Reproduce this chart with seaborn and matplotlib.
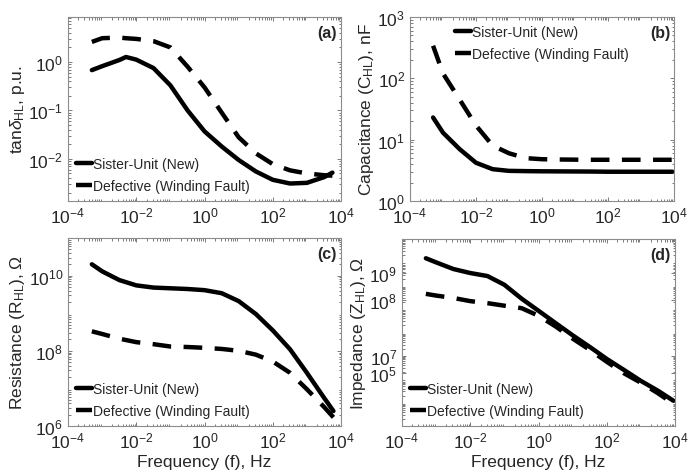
import matplotlib
matplotlib.use("Agg")
import matplotlib.pyplot as plt
import numpy as np
import pandas as pd
import seaborn as sns
from matplotlib.ticker import LogLocator

freq_left = [5e-4, 1e-3, 3.2e-3, 5e-3, 1e-2, 3.2e-2, 0.1, 0.32, 1, 3.2, 10, 32, 100, 320, 1000, 3200, 5600]
freq_right = [5e-4, 1e-3, 3.2e-3, 1e-2, 3.2e-2, 0.1, 0.32, 1, 3.2, 10, 32, 100, 320, 1000, 3200, 9000]
freq_c = [5e-4, 1e-3, 3.2e-3, 1e-2, 3.2e-2, 0.1, 0.32, 1, 3.2, 10, 32, 100, 320, 1000, 3200, 6000]

units = ["Sister-Unit (New)", "Defective (Winding Fault)"]

# (a) tan delta, p.u.
tan_new = [0.68, 0.82, 1.1, 1.27, 1.12, 0.75, 0.33, 0.10, 0.037, 0.018, 0.0095,
           0.0055, 0.0037, 0.0031, 0.0032, 0.0042, 0.0052]
tan_def = [2.6, 3.1, 3.2, 3.1, 3.0, 2.7, 2.0, 0.8, 0.3, 0.09, 0.028,
           0.013, 0.0078, 0.0058, 0.005, 0.0046, 0.0045]

# (b) capacitance, nF
cap_new = [23, 13, 7, 4.2, 3.3, 3.1, 3.07, 3.05, 3.04, 3.03, 3.02, 3.0, 3.0, 3.0, 3.0, 3.0]
cap_def = [340, 120, 45, 17, 8, 6, 5.0, 4.8, 4.75, 4.72, 4.7, 4.7, 4.7, 4.7, 4.7, 4.7]

# (c) resistance, ohm
res_new = [2.0e10, 1.3e10, 7.6e9, 5.5e9, 4.8e9, 4.6e9, 4.4e9, 4.1e9, 3.4e9, 2.1e9,
           9.5e8, 3.5e8, 1.1e8, 2.6e7, 5.6e6, 2.5e6]
res_def = [3.3e8, 2.8e8, 2.1e8, 1.7e8, 1.5e8, 1.3e8, 1.26e8, 1.2e8, 1.12e8, 1.0e8,
           7.9e7, 5.2e7, 2.6e7, 9.5e6, 3.2e6, 1.7e6]

# (d) impedance, ohm
imp_new = [1.5e10, 1.0e10, 5.2e9, 3.5e9, 2.6e9, 1.1e9, 2.8e8, 8.5e7, 2.5e7, 7.6e6,
           2.4e6, 7.4e5, 2.5e5, 8.5e4, 3.2e4, 1.2e4]
imp_def = [4.5e8, 3.8e8, 3.0e8, 2.2e8, 1.8e8, 1.4e8, 1.1e8, 5.2e7, 1.8e7, 5.5e6,
           1.8e6, 5.6e5, 1.8e5, 7.1e4, 2.5e4, 8.9e3]
# panel (d) carries hand-edited tick labels in the original
imp_tick_vals = [3.5e9, 2.5e8, 1.0e6, 1.9e5]
imp_tick_labels = [r"$10^{9}$", r"$10^{8}$", r"$10^{7}$", r"$10^{5}$"]

sns.set_style("ticks")
plt.rcParams["font.family"] = ["Liberation Sans", "DejaVu Sans"]
plt.rcParams["mathtext.fontset"] = "custom"
plt.rcParams["mathtext.rm"] = "Liberation Sans"
plt.rcParams["mathtext.it"] = "Liberation Sans:italic"
plt.rcParams["mathtext.default"] = "regular"

W, H = 694, 477
fig = plt.figure(figsize=(W / 100, H / 100), dpi=100)


def box(l, t, r, b):
    return [l / W, 1 - b / H, (r - l) / W, (b - t) / H]


ax_a = fig.add_axes(box(68, 18, 341, 202))
ax_b = fig.add_axes(box(410, 18, 674, 202))
ax_c = fig.add_axes(box(68, 239, 341, 427))
ax_d = fig.add_axes(box(402, 240, 675, 427))

dash_map = {units[0]: "", units[1]: (4.2, 2.8)}


def panel(ax, f, new, dfc, tag, legend_loc):
    df = pd.DataFrame({
        "f": list(f) + list(f),
        "v": list(new) + list(dfc),
        "unit": [units[0]] * len(f) + [units[1]] * len(f),
    })
    sns.lineplot(data=df, x="f", y="v", hue="unit", style="unit",
                 palette=["black", "black"], dashes=dash_map, lw=3.2,
                 ax=ax, legend=True)
    ax.set_xscale("log")
    ax.set_yscale("log")
    ax.set_xlim(1e-4, 1e4)
    ax.set_xticks([1e-4, 1e-2, 1, 1e2, 1e4])
    ax.xaxis.set_minor_locator(LogLocator(base=10, subs=np.arange(2, 10), numticks=30))
    ax.yaxis.set_minor_locator(LogLocator(base=10, subs=np.arange(2, 10), numticks=30))
    ax.tick_params(which="both", direction="in", top=True, right=True,
                   labelsize=12.5, color="0.4", width=0.6)
    ax.tick_params(which="major", length=3)
    ax.tick_params(which="minor", length=1.8)
    for s in ax.spines.values():
        s.set_color("0.55")
        s.set_linewidth(0.8)
    ax.set_xlabel("")
    ax.text(0.985, 0.955, tag, transform=ax.transAxes, ha="right", va="top",
            fontsize=11.5, fontweight="bold")
    handles, labels = ax.get_legend_handles_labels()
    ax.legend(handles, labels, loc=legend_loc, frameon=False, fontsize=10,
              handlelength=1.1, handletextpad=0.1, labelspacing=0.55,
              borderaxespad=0.2)


panel(ax_a, freq_left, tan_new, tan_def, "(a)", "lower left")
ax_a.set_ylim(1.35e-3, 8.5)
ax_a.set_yticks([1e-2, 1e-1, 1])
ax_a.set_ylabel(r"tan$\mathit{\delta}_{HL}$, p.u.", fontsize=12.5, labelpad=1)

panel(ax_b, freq_right, cap_new, cap_def, "(b)", "upper center")
ax_b.set_ylim(1, 1000)
ax_b.set_yticks([1, 10, 100, 1000])
ax_b.set_ylabel(r"Capacitance (C$_{HL}$), nF", fontsize=12.5, labelpad=1)

panel(ax_c, freq_c, res_new, res_def, "(c)", "lower left")
ax_c.set_ylim(1e6, 1e11)
ax_c.set_yticks([1e6, 1e8, 1e10])
ax_c.set_ylabel(r"Resistance (R$_{HL}$), $\Omega$", fontsize=12.5, labelpad=1)
ax_c.set_xlabel("Frequency (f), Hz", fontsize=12.5, labelpad=2)

panel(ax_d, freq_right, imp_new, imp_def, "(d)", "lower left")
ax_d.set_ylim(1e3, 1e11)
ax_d.set_yticks(imp_tick_vals)
ax_d.set_yticklabels(imp_tick_labels)
ax_d.yaxis.set_minor_locator(LogLocator(base=10, subs=np.arange(2, 10), numticks=30))
ax_d.set_ylabel(r"Impedance (Z$_{HL}$), $\Omega$", fontsize=12.5, labelpad=1)
ax_d.set_xlabel("Frequency (f), Hz", fontsize=12.5, labelpad=2)

fig.savefig("out.png", dpi=100)
